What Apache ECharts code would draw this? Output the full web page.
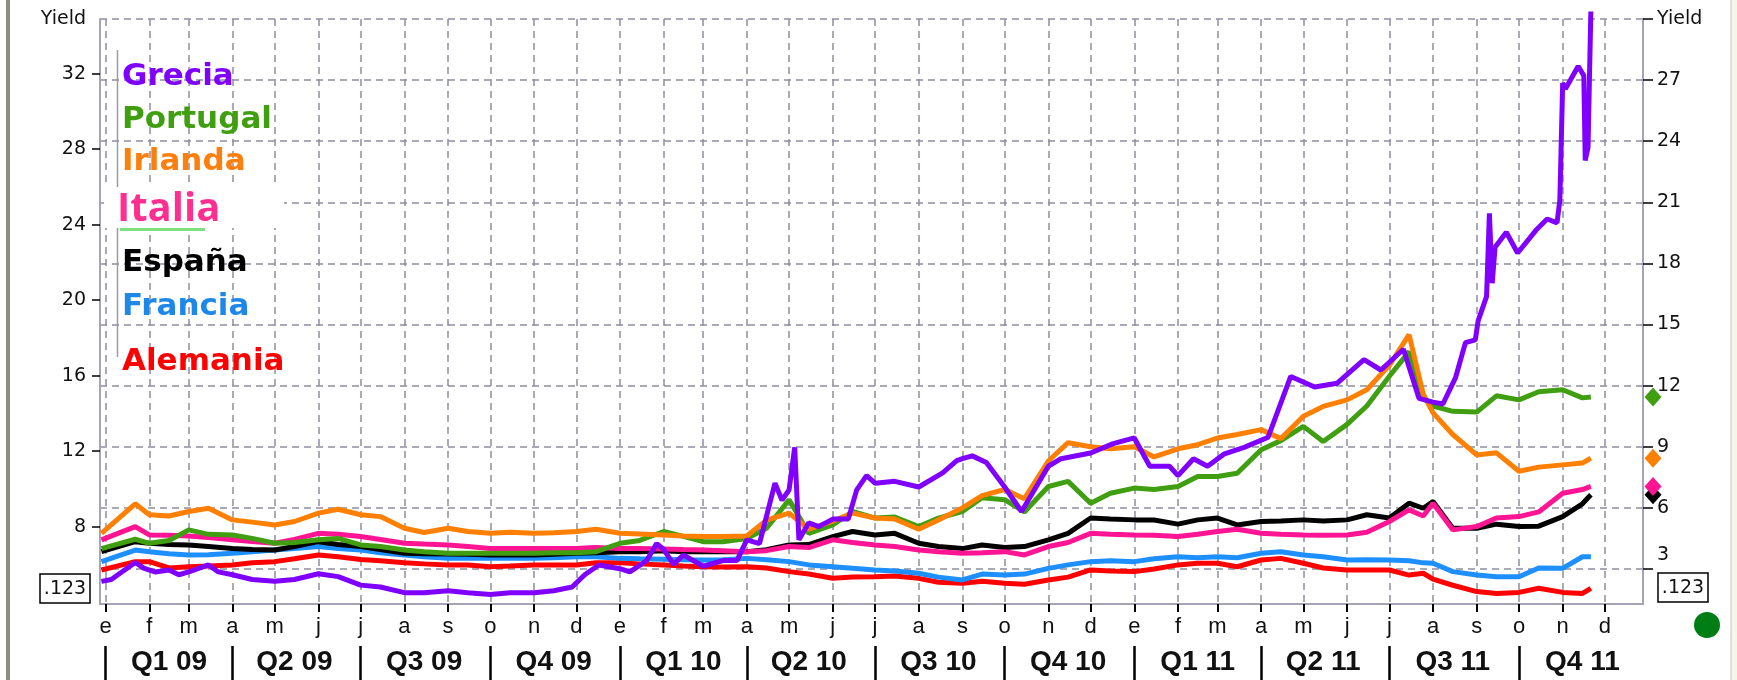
<!DOCTYPE html>
<html>
<head>
<meta charset="utf-8">
<script src="https://cdn.jsdelivr.net/npm/echarts@6/dist/echarts.min.js"></script>
<style>
  html, body { margin: 0; padding: 0; background: #fff; }
  #main { width: 1737px; height: 680px; }
</style>
</head>
<body>
<div id="main"></div>
<script>
// fechas comunes (aprox. quincenales)
var fechas = [
  '2008-12-29', '2009-01-22', '2009-02-01', '2009-02-15', '2009-03-01', '2009-03-15', '2009-04-01', '2009-04-15',
  '2009-05-01', '2009-05-15', '2009-06-01', '2009-06-15', '2009-07-01', '2009-07-15', '2009-08-01', '2009-08-15',
  '2009-09-01', '2009-09-15', '2009-10-01', '2009-10-15', '2009-11-01', '2009-11-15', '2009-12-01', '2009-12-15',
  '2010-01-01', '2010-01-15', '2010-02-01', '2010-02-15', '2010-03-01', '2010-03-15', '2010-04-01', '2010-04-15',
  '2010-05-01', '2010-05-15', '2010-06-01', '2010-06-15', '2010-07-01', '2010-07-15', '2010-08-01', '2010-08-15',
  '2010-09-01', '2010-09-15', '2010-10-01', '2010-10-15', '2010-11-01', '2010-11-15', '2010-12-01', '2010-12-15',
  '2011-01-01', '2011-01-15', '2011-02-01', '2011-02-15', '2011-03-01', '2011-03-15', '2011-04-01', '2011-04-15',
  '2011-05-01', '2011-05-15', '2011-06-01', '2011-06-15', '2011-07-01', '2011-07-15', '2011-07-25', '2011-08-01',
  '2011-08-15', '2011-09-01', '2011-09-15', '2011-10-01', '2011-10-15', '2011-11-01', '2011-11-15', '2011-11-21'
];

var irlanda = [
  4.75, 6.2, 5.66, 5.6, 5.82, 5.98, 5.41, 5.3, 5.16, 5.33, 5.74, 5.93, 5.66, 5.57, 5.0, 4.79, 5.0, 4.84, 4.75, 4.8, 4.75, 4.78, 4.84, 4.95,
  4.75, 4.72, 4.67, 4.62, 4.59, 4.59, 4.62, 5.4, 5.74, 4.95, 5.35, 5.74, 5.5, 5.45, 4.95, 5.4, 6.0, 6.6, 6.9, 6.45, 8.3, 9.2, 9.0, 8.9,
  9.0, 8.5, 8.9, 9.1, 9.43, 9.6, 9.84, 9.4, 10.5, 10.98, 11.3, 11.8, 13.0, 14.5, 11.6, 10.66, 9.6, 8.6, 8.7, 7.8, 8.0, 8.11, 8.2, 8.44
];
var portugal = [
  4.0, 4.46, 4.26, 4.4, 4.92, 4.7, 4.67, 4.5, 4.26, 4.3, 4.43, 4.5, 4.18, 4.1, 3.93, 3.85, 3.77, 3.77, 3.77, 3.77, 3.77, 3.8, 3.8, 3.85,
  4.26, 4.4, 4.84, 4.6, 4.34, 4.34, 4.5, 5.0, 6.4, 4.75, 5.16, 5.82, 5.5, 5.55, 5.08, 5.5, 5.82, 6.5, 6.4, 5.8, 7.05, 7.3, 6.23, 6.72,
  6.97, 6.9, 7.05, 7.54, 7.54, 7.7, 8.85, 9.3, 10.0, 9.26, 10.1, 11.0, 12.46, 13.67, 11.4, 11.0, 10.74, 10.7, 11.5, 11.3, 11.7, 11.8, 11.4, 11.44
];
var espana = [
  3.85, 4.34, 4.26, 4.2, 4.18, 4.1, 4.0, 3.95, 3.93, 4.1, 4.34, 4.2, 4.1, 3.95, 3.77, 3.75, 3.74, 3.72, 3.69, 3.69, 3.69, 3.72, 3.77, 3.8,
  3.85, 3.85, 3.9, 3.85, 3.85, 3.85, 3.85, 3.95, 4.18, 4.2, 4.59, 4.84, 4.67, 4.75, 4.26, 4.1, 4.0, 4.18, 4.05, 4.1, 4.43, 4.75, 5.5, 5.45,
  5.41, 5.4, 5.2, 5.41, 5.5, 5.16, 5.33, 5.35, 5.41, 5.35, 5.41, 5.66, 5.5, 6.23, 5.98, 6.31, 5.0, 5.0, 5.2, 5.08, 5.1, 5.57, 6.2, 6.64
];
var italia = [
  4.43, 5.08, 4.67, 4.65, 4.62, 4.55, 4.43, 4.35, 4.26, 4.45, 4.75, 4.7, 4.59, 4.45, 4.26, 4.22, 4.18, 4.1, 4.0, 4.0, 4.0, 4.0, 4.0, 4.05,
  4.0, 4.0, 3.98, 3.95, 3.93, 3.9, 3.85, 3.9, 4.1, 4.05, 4.43, 4.3, 4.18, 4.1, 3.93, 3.85, 3.77, 3.8, 3.85, 3.69, 4.1, 4.3, 4.75, 4.7,
  4.67, 4.65, 4.59, 4.7, 4.84, 4.95, 4.75, 4.7, 4.67, 4.65, 4.67, 4.8, 5.33, 5.9, 5.6, 6.23, 4.92, 5.08, 5.5, 5.57, 5.8, 6.72, 6.9, 7.05
];
var francia = [
  3.36, 3.93, 3.85, 3.75, 3.69, 3.7, 3.77, 3.85, 3.93, 4.0, 4.1, 4.0, 3.93, 3.8, 3.69, 3.6, 3.52, 3.52, 3.52, 3.52, 3.52, 3.55, 3.6, 3.6,
  3.52, 3.5, 3.48, 3.45, 3.44, 3.45, 3.52, 3.45, 3.36, 3.2, 3.11, 3.03, 2.95, 2.9, 2.79, 2.6, 2.46, 2.75, 2.7, 2.75, 3.03, 3.2, 3.36, 3.4,
  3.36, 3.5, 3.6, 3.55, 3.6, 3.55, 3.77, 3.85, 3.69, 3.6, 3.44, 3.45, 3.44, 3.4, 3.3, 3.28, 2.87, 2.7, 2.62, 2.62, 3.05, 3.03, 3.6, 3.6
];
var alemania = [
  2.95, 3.36, 3.36, 3.05, 3.11, 3.15, 3.2, 3.3, 3.36, 3.5, 3.69, 3.6, 3.46, 3.4, 3.3, 3.25, 3.2, 3.2, 3.11, 3.15, 3.2, 3.2, 3.2, 3.3,
  3.3, 3.25, 3.2, 3.15, 3.11, 3.1, 3.11, 3.05, 2.87, 2.75, 2.54, 2.6, 2.62, 2.65, 2.54, 2.35, 2.3, 2.4, 2.3, 2.25, 2.46, 2.6, 2.95, 2.9,
  2.87, 3.0, 3.2, 3.28, 3.28, 3.11, 3.44, 3.52, 3.28, 3.05, 2.95, 2.95, 2.95, 2.7, 2.79, 2.5, 2.2, 1.89, 1.8, 1.85, 2.05, 1.85, 1.8, 2.05
];

// Grecia va en el eje izquierdo y tiene sus propias fechas
var greciaFechas = [
  '2008-12-29', '2009-01-05', '2009-01-22', '2009-01-28', '2009-02-05', '2009-02-15', '2009-02-22', '2009-03-01',
  '2009-03-15', '2009-03-22', '2009-04-01', '2009-04-15', '2009-05-01', '2009-05-15', '2009-06-01', '2009-06-15',
  '2009-07-01', '2009-07-15', '2009-08-01', '2009-08-15', '2009-09-01', '2009-09-15', '2009-10-01', '2009-10-15',
  '2009-11-01', '2009-11-15', '2009-11-28', '2009-12-07', '2009-12-17', '2010-01-01', '2010-01-08', '2010-01-20',
  '2010-01-27', '2010-02-01', '2010-02-08', '2010-02-15', '2010-03-01', '2010-03-15', '2010-03-25', '2010-04-01',
  '2010-04-10', '2010-04-21', '2010-04-26', '2010-05-01', '2010-05-05', '2010-05-08', '2010-05-15', '2010-05-22',
  '2010-06-01', '2010-06-12', '2010-06-18', '2010-06-25', '2010-07-01', '2010-07-15', '2010-08-01', '2010-08-18',
  '2010-08-28', '2010-09-01', '2010-09-08', '2010-09-18', '2010-10-01', '2010-10-13', '2010-11-01', '2010-11-10',
  '2010-12-01', '2010-12-17', '2011-01-01', '2011-01-12', '2011-01-26', '2011-02-01', '2011-02-12', '2011-02-22',
  '2011-03-06', '2011-03-20', '2011-04-06', '2011-04-22', '2011-05-09', '2011-05-25', '2011-06-13', '2011-06-25',
  '2011-07-11', '2011-07-22', '2011-08-01', '2011-08-08', '2011-08-17', '2011-08-24', '2011-08-31', '2011-09-02',
  '2011-09-08', '2011-09-10', '2011-09-12', '2011-09-14', '2011-09-22', '2011-09-30', '2011-10-13', '2011-10-21',
  '2011-10-28', '2011-10-30', '2011-11-01', '2011-11-03', '2011-11-12', '2011-11-16', '2011-11-17', '2011-11-19',
  '2011-11-20', '2011-11-21'
];
var grecia = [
  5.1, 5.2, 6.1, 5.8, 5.6, 5.7, 5.45, 5.6,
  5.97, 5.6, 5.45, 5.2, 5.1, 5.2, 5.5, 5.35,
  4.9, 4.8, 4.5, 4.5, 4.6, 4.5, 4.4, 4.5,
  4.5, 4.6, 4.8, 5.45, 5.97, 5.77, 5.6, 6.2,
  7.1, 6.8, 6.0, 6.5, 5.9, 6.2, 6.2, 7.3,
  7.1, 10.3, 9.4, 9.95, 12.2, 7.3, 8.2, 8.0,
  8.4, 8.4, 9.95, 10.7, 10.3, 10.4, 10.1, 10.85,
  11.5, 11.6, 11.75, 11.4, 10.1, 8.8, 11.2, 11.6,
  11.9, 12.4, 12.7, 11.2, 11.2, 10.7, 11.6, 11.2,
  11.86, 12.2, 12.74, 15.96, 15.4, 15.6, 16.85, 16.3,
  17.4, 14.8, 14.6, 14.5, 15.9, 17.75, 17.9, 18.9,
  20.2, 24.6, 20.9, 22.8, 23.6, 22.5, 23.7, 24.3,
  24.1, 25.3, 31.5, 31.2, 32.4, 31.9, 27.4, 28.1,
  31.8, 35.3
];

var meses = ['e', 'f', 'm', 'a', 'm', 'j', 'j', 'a', 's', 'o', 'n', 'd'];
var ticksIzq = [8, 12, 16, 20, 24, 28, 32];
var ticksDer = [3, 6, 9, 12, 15, 18, 21, 24, 27, 30];

var X_MIN = Date.UTC(2008, 11, 28);
var X_MAX = Date.UTC(2011, 11, 28);
var IZQ_MIN = 3.9, IZQ_MAX = 34.9;
var DER_MIN = 1.28, DER_MAX = 30;

var ticksMes = [], ticksTrim = [], centroTrim = [];
for (var y = 2009; y <= 2011; y++) {
  for (var m = 0; m < 12; m++) {
    ticksMes.push(Date.UTC(y, m, 1));
    if (m % 3 === 0) {
      ticksTrim.push(Date.UTC(y, m, 1));
      centroTrim.push(Date.UTC(y, m + 1, 15));
    }
  }
}

function serie(fs, vals) {
  return fs.map(function (f, i) { return [Date.parse(f), vals[i]]; });
}

var gris = '#a4a4b6';
var rejilla = { show: true, lineStyle: { type: [7, 5], color: '#8e8e9e', width: 1.5 } };
var fuenteEje = { fontFamily: 'DejaVu Sans', fontSize: 19, color: '#111' };

function linea(nombre, color, fs, vals, eje, rombo) {
  var s = {
    name: nombre,
    type: 'line',
    yAxisIndex: eje,
    data: serie(fs, vals),
    showSymbol: false,
    symbol: 'none',
    clip: false,
    lineStyle: { width: 5, color: color },
    itemStyle: { color: color }
  };
  if (rombo) {
    s.markPoint = {
      symbol: 'diamond',
      symbolSize: [17, 19],
      symbolOffset: [10, 0],
      silent: true,
      label: { show: false },
      itemStyle: { color: color },
      data: [{ coord: [X_MAX, vals[vals.length - 1]] }]
    };
  }
  return s;
}

var leyenda = [
  ['Grecia', '#7f00ff', 77],
  ['Portugal', '#3f9f10', 120],
  ['Irlanda', '#ff7f0e', 162],
  ['España', '#000000', 263],
  ['Francia', '#1e88e8', 307],
  ['Alemania', '#ff0000', 362]
];

var graficos = [
  { type: 'rect', shape: { x: 6, y: 0, width: 4, height: 680 }, style: { fill: '#8d8d7e' } },
  { type: 'rect', shape: { x: 1731, y: 0, width: 6, height: 680 }, style: { fill: '#f6f6ea' } },
  { type: 'line', shape: { x1: 1731, y1: 0, x2: 1731, y2: 680 }, style: { stroke: '#c8c8b8', lineWidth: 1 } },
  { type: 'line', shape: { x1: 117.5, y1: 50, x2: 117.5, y2: 187 }, style: { stroke: '#9a9aa8', lineWidth: 1.5 } },
  { type: 'line', shape: { x1: 117.5, y1: 228, x2: 117.5, y2: 357 }, style: { stroke: '#9a9aa8', lineWidth: 1.5 } },
  { type: 'rect', z: 50, shape: { x: 104, y: 187, width: 180, height: 41 }, style: { fill: '#ffffff' } },
  { type: 'rect', z: 50, shape: { x: 120, y: 228, width: 85, height: 3 }, style: { fill: '#7ee07e' } },
  { type: 'text', z: 60, x: 117, y: 210, style: { text: 'Italia', fill: '#ff2f92', font: 'bold 40px "Open Sans"', verticalAlign: 'middle' } },
  { type: 'rect', z: 50, shape: { x: 40, y: 574, width: 50, height: 29 }, style: { fill: '#fff', stroke: '#000', lineWidth: 1.5 } },
  { type: 'text', z: 60, x: 65, y: 589, style: { text: '.123', fill: '#111', font: '19px "DejaVu Sans"', align: 'center', verticalAlign: 'middle' } },
  { type: 'rect', z: 50, shape: { x: 1658, y: 573, width: 50, height: 29 }, style: { fill: '#fff', stroke: '#000', lineWidth: 1.5 } },
  { type: 'text', z: 60, x: 1683, y: 588, style: { text: '.123', fill: '#111', font: '19px "DejaVu Sans"', align: 'center', verticalAlign: 'middle' } },
  { type: 'circle', shape: { cx: 1707, cy: 625, r: 13 }, style: { fill: '#007d14' } }
];
leyenda.forEach(function (l) {
  graficos.push({
    type: 'text', z: 60, x: 122, y: l[2],
    style: { text: l[0], fill: l[1], font: 'bold 31px "DejaVu Sans"', verticalAlign: 'middle' }
  });
});

var myChart = echarts.init(document.getElementById('main'));
myChart.setOption({
  animation: false,
  backgroundColor: '#ffffff',
  grid: { left: 100, right: 94, top: 19, bottom: 76, containLabel: false, outerBoundsMode: 'none' },
  xAxis: [
    {
      type: 'value',
      min: X_MIN,
      max: X_MAX,
      axisLine: { show: true, onZero: false, lineStyle: { color: gris, width: 2 } },
      axisTick: { show: true, customValues: ticksMes, length: 8, lineStyle: { color: '#000', width: 2 } },
      axisLabel: {
        customValues: ticksMes,
        fontFamily: 'Liberation Sans',
        fontSize: 22,
        color: '#111',
        margin: 12,
        formatter: function (v) { return meses[new Date(v).getUTCMonth()]; }
      },
      splitLine: rejilla
    },
    {
      type: 'value',
      min: X_MIN,
      max: X_MAX,
      position: 'bottom',
      offset: 42,
      axisLine: { show: false, onZero: false },
      axisTick: { show: true, customValues: ticksTrim, length: 36, lineStyle: { color: '#000', width: 2.5 } },
      axisLabel: {
        customValues: centroTrim,
        fontFamily: 'Liberation Sans',
        fontWeight: 'bold',
        fontSize: 28,
        color: '#111',
        margin: 2,
        formatter: function (v) {
          var d = new Date(v);
          return 'Q' + (Math.floor(d.getUTCMonth() / 3) + 1) + ' ' + String(d.getUTCFullYear()).slice(2);
        }
      },
      splitLine: { show: false }
    }
  ],
  yAxis: [
    {
      type: 'value',
      position: 'left',
      min: IZQ_MIN,
      max: IZQ_MAX,
      axisLine: { show: true, lineStyle: { color: gris, width: 2 } },
      axisTick: { show: true, customValues: ticksIzq, length: 8, lineStyle: { color: '#000', width: 1.5 } },
      axisLabel: Object.assign({
        customValues: ticksIzq.concat([IZQ_MAX]),
        margin: 14,
        formatter: function (v) { return v > 33 ? 'Yield' : v; }
      }, fuenteEje),
      splitLine: { show: false }
    },
    {
      type: 'value',
      position: 'right',
      min: DER_MIN,
      max: DER_MAX,
      axisLine: { show: true, lineStyle: { color: gris, width: 2 } },
      axisTick: { show: true, customValues: ticksDer, length: 10, lineStyle: { color: '#000', width: 1.5 } },
      axisLabel: Object.assign({
        customValues: ticksDer,
        margin: 14,
        lineHeight: 28,
        formatter: function (v) {
          if (v === 30) return 'Yield';
          if (v === 3) return '3\n ';
          return v;
        }
      }, fuenteEje),
      splitLine: rejilla
    }
  ],
  graphic: graficos,
  series: [
    linea('Alemania', '#ff0000', fechas, alemania, 1, false),
    linea('Francia', '#1e8fff', fechas, francia, 1, false),
    linea('España', '#000000', fechas, espana, 1, true),
    linea('Italia', '#ff1493', fechas, italia, 1, true),
    linea('Portugal', '#3f9f10', fechas, portugal, 1, true),
    linea('Irlanda', '#ff7f00', fechas, irlanda, 1, true),
    linea('Grecia', '#7f00ff', greciaFechas, grecia, 0, false)
  ]
});
</script>
</body>
</html>
